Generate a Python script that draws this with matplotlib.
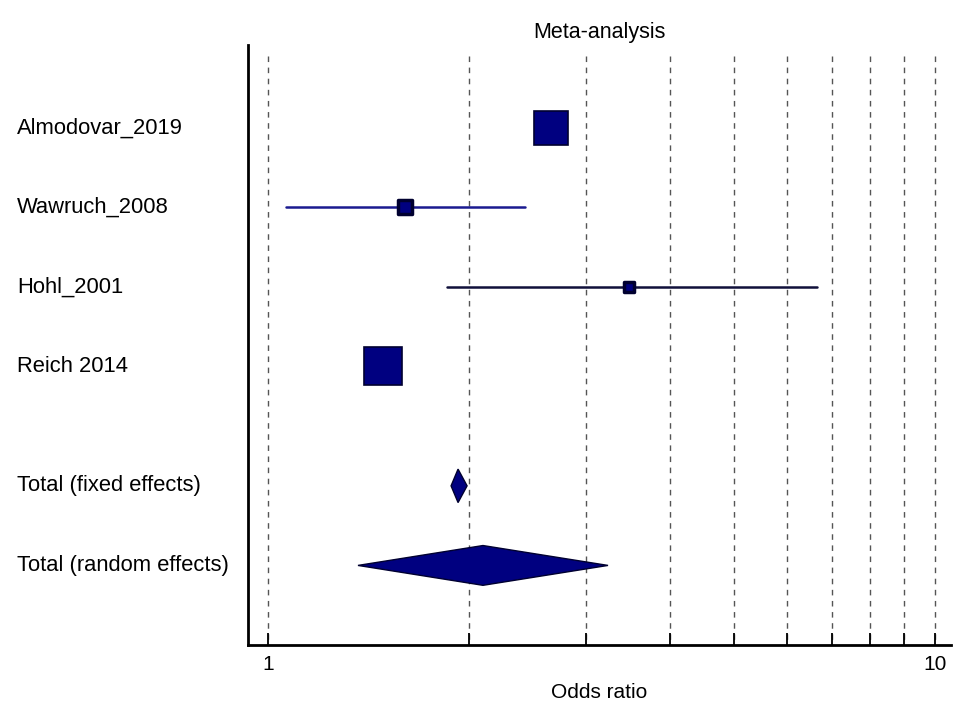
import matplotlib.pyplot as plt
import matplotlib.transforms as mtransforms
import numpy as np

plt.rcParams['font.family'] = ['Liberation Sans', 'DejaVu Sans']

# 1. Data
studies = ['Almodovar_2019', 'Wawruch_2008', 'Hohl_2001', 'Reich 2014']
odds = [2.66, 1.605, 3.48, 1.487]
ci_low = [2.58, 1.064, 1.855, 1.43]
ci_high = [2.74, 2.43, 6.65, 1.54]
weights = [39.9, 7.5, 3.5, 49.8]  # % weight, sets box size

pooled_labels = ['Total (fixed effects)', 'Total (random effects)']
pooled_or = [1.927, 2.10]
pooled_low = [1.881, 1.364]
pooled_high = [1.988, 3.234]

study_rows = [0, 1, 2, 3]
pooled_rows = [4.5, 5.5]
grid_ticks = [1, 2, 3, 4, 5, 6, 7, 8, 9, 10]

navy = '#000080'

# 2. Plotting
fig = plt.figure(figsize=(9.76, 7.11), dpi=100)
ax = fig.add_axes([248 / 976, 1 - 645 / 711, (951 - 248) / 976, (645 - 45) / 711])
ax.set_xscale('log')
ax.set_xlim(0.933, 10.57)
ax.set_ylim(6.5, -1.04)

# dashed grid at 1..10
ax.vlines(grid_ticks, -0.9, 6.5, colors='#555555', linestyles=(0, (4, 4)),
          linewidth=1.0, zorder=1)

line_cols = [navy, '#1a1a90', '#10103a', navy]
for i, r in enumerate(study_rows):
    ax.plot([ci_low[i], ci_high[i]], [r, r], color=line_cols[i], lw=1.8,
            solid_capstyle='round', zorder=2)
    # box side in pixels ~ sqrt(weight), converted to points
    side_px = 5.38 * np.sqrt(weights[i])
    size_pt = side_px * 0.72
    small = side_px < 20
    ax.scatter(odds[i], r, marker='s', s=size_pt ** 2, color=navy,
               edgecolors='#000030', linewidths=2.5 if small else 1.2,
               joinstyle='round' if small else 'miter', zorder=3)

half_h = [0.21, 0.25]
for i, r in enumerate(pooled_rows):
    xs = [pooled_low[i], pooled_or[i], pooled_high[i], pooled_or[i]]
    ys = [r, r - half_h[i], r, r + half_h[i]]
    ax.fill(xs, ys, color=navy, edgecolor='#000030', lw=1.0, zorder=3)

# row labels on the left
trans = mtransforms.blended_transform_factory(fig.transFigure, ax.transData)
for lab, r in zip(studies + pooled_labels, study_rows + pooled_rows):
    ax.text(17 / 976, r, lab, transform=trans, ha='left', va='center',
            fontsize=15.8, color='black')

# 3. Formatting
for s in ['top', 'right']:
    ax.spines[s].set_visible(False)
ax.spines['left'].set_linewidth(2)
ax.spines['bottom'].set_linewidth(2)
ax.set_yticks([])
ax.set_xticks(grid_ticks)
ax.set_xticklabels(['1', '', '', '', '', '', '', '', '', '10'], fontsize=15)
ax.xaxis.set_minor_locator(plt.NullLocator())
ax.tick_params(axis='x', direction='in', length=9, width=1.3, pad=7)
ax.set_xlabel('Odds ratio', fontsize=15, labelpad=7)
ax.set_title('Meta-analysis', fontsize=15.5, pad=5)

# 4. Save
fig.savefig('out.png', dpi=100)
